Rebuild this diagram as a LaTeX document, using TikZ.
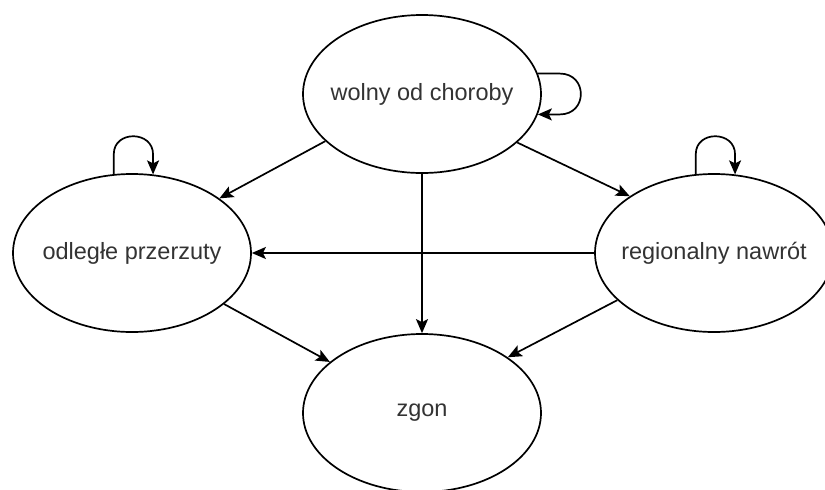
\documentclass[tikz,border=0pt]{standalone}
\usepackage{fontspec}
\setmainfont{Liberation Sans}
\usetikzlibrary{shapes.geometric,arrows.meta,calc}

% zero-width label box, so that the ellipse keeps its fixed size
\newcommand{\statetext}[1]{\makebox[0pt]{#1}}

\tikzset{
  state/.style={ellipse, draw=black, line width=1.7pt, fill=white,
    minimum width=238pt, minimum height=158pt, inner sep=0pt,
    text=black!80, font=\fontsize{23.5}{28}\selectfont},
  link/.style={draw=black, line width=1.7pt,
    -{Stealth[length=14pt, width=12pt, inset=3pt]}},
}

\begin{document}
\begin{tikzpicture}[x=1pt, y=-1pt]
  \fill[white] (0,0) rectangle (825,490);
  \useasboundingbox (0,0) rectangle (825,490);

  % states
  \node[state] (wolny)    at (422,94)  {\statetext{wolny od choroby}};
  \node[state] (odlegle)  at (132,253) {\statetext{odległe przerzuty}};
  \node[state] (regional) at (714,253) {\statetext{regionalny nawrót}};
  \node[state] (zgon)     at (422,413) {\statetext{zgon}};

  % transitions between states
  \draw[link] (wolny.206.8) -- (odlegle.32.5);
  \draw[link] (wolny.333.4) -- (regional.146.5);
  \draw[link] (wolny.270)   -- (zgon.90);
  \draw[link] (regional.180) -- (odlegle.0);
  \draw[link] (odlegle.331.3) -- (zgon.151.5);
  \draw[link] (regional.206.8) -- (zgon.33.5);

  % self loops
  \draw[link] (wolny.10) -- ++(22,0)
    .. controls +(28,0) and +(28,0) .. ($(wolny.350)+(22,0)$) -- (wolny.350);
  \draw[link] (odlegle.103.5) -- ++(0,-20)
    .. controls +(0,-24) and +(0,-24) .. ($(odlegle.75)+(0,-20)$) -- (odlegle.75);
  \draw[link] (regional.103.5) -- ++(0,-20)
    .. controls +(0,-24) and +(0,-24) .. ($(regional.75)+(0,-20)$) -- (regional.75);
\end{tikzpicture}
\end{document}
